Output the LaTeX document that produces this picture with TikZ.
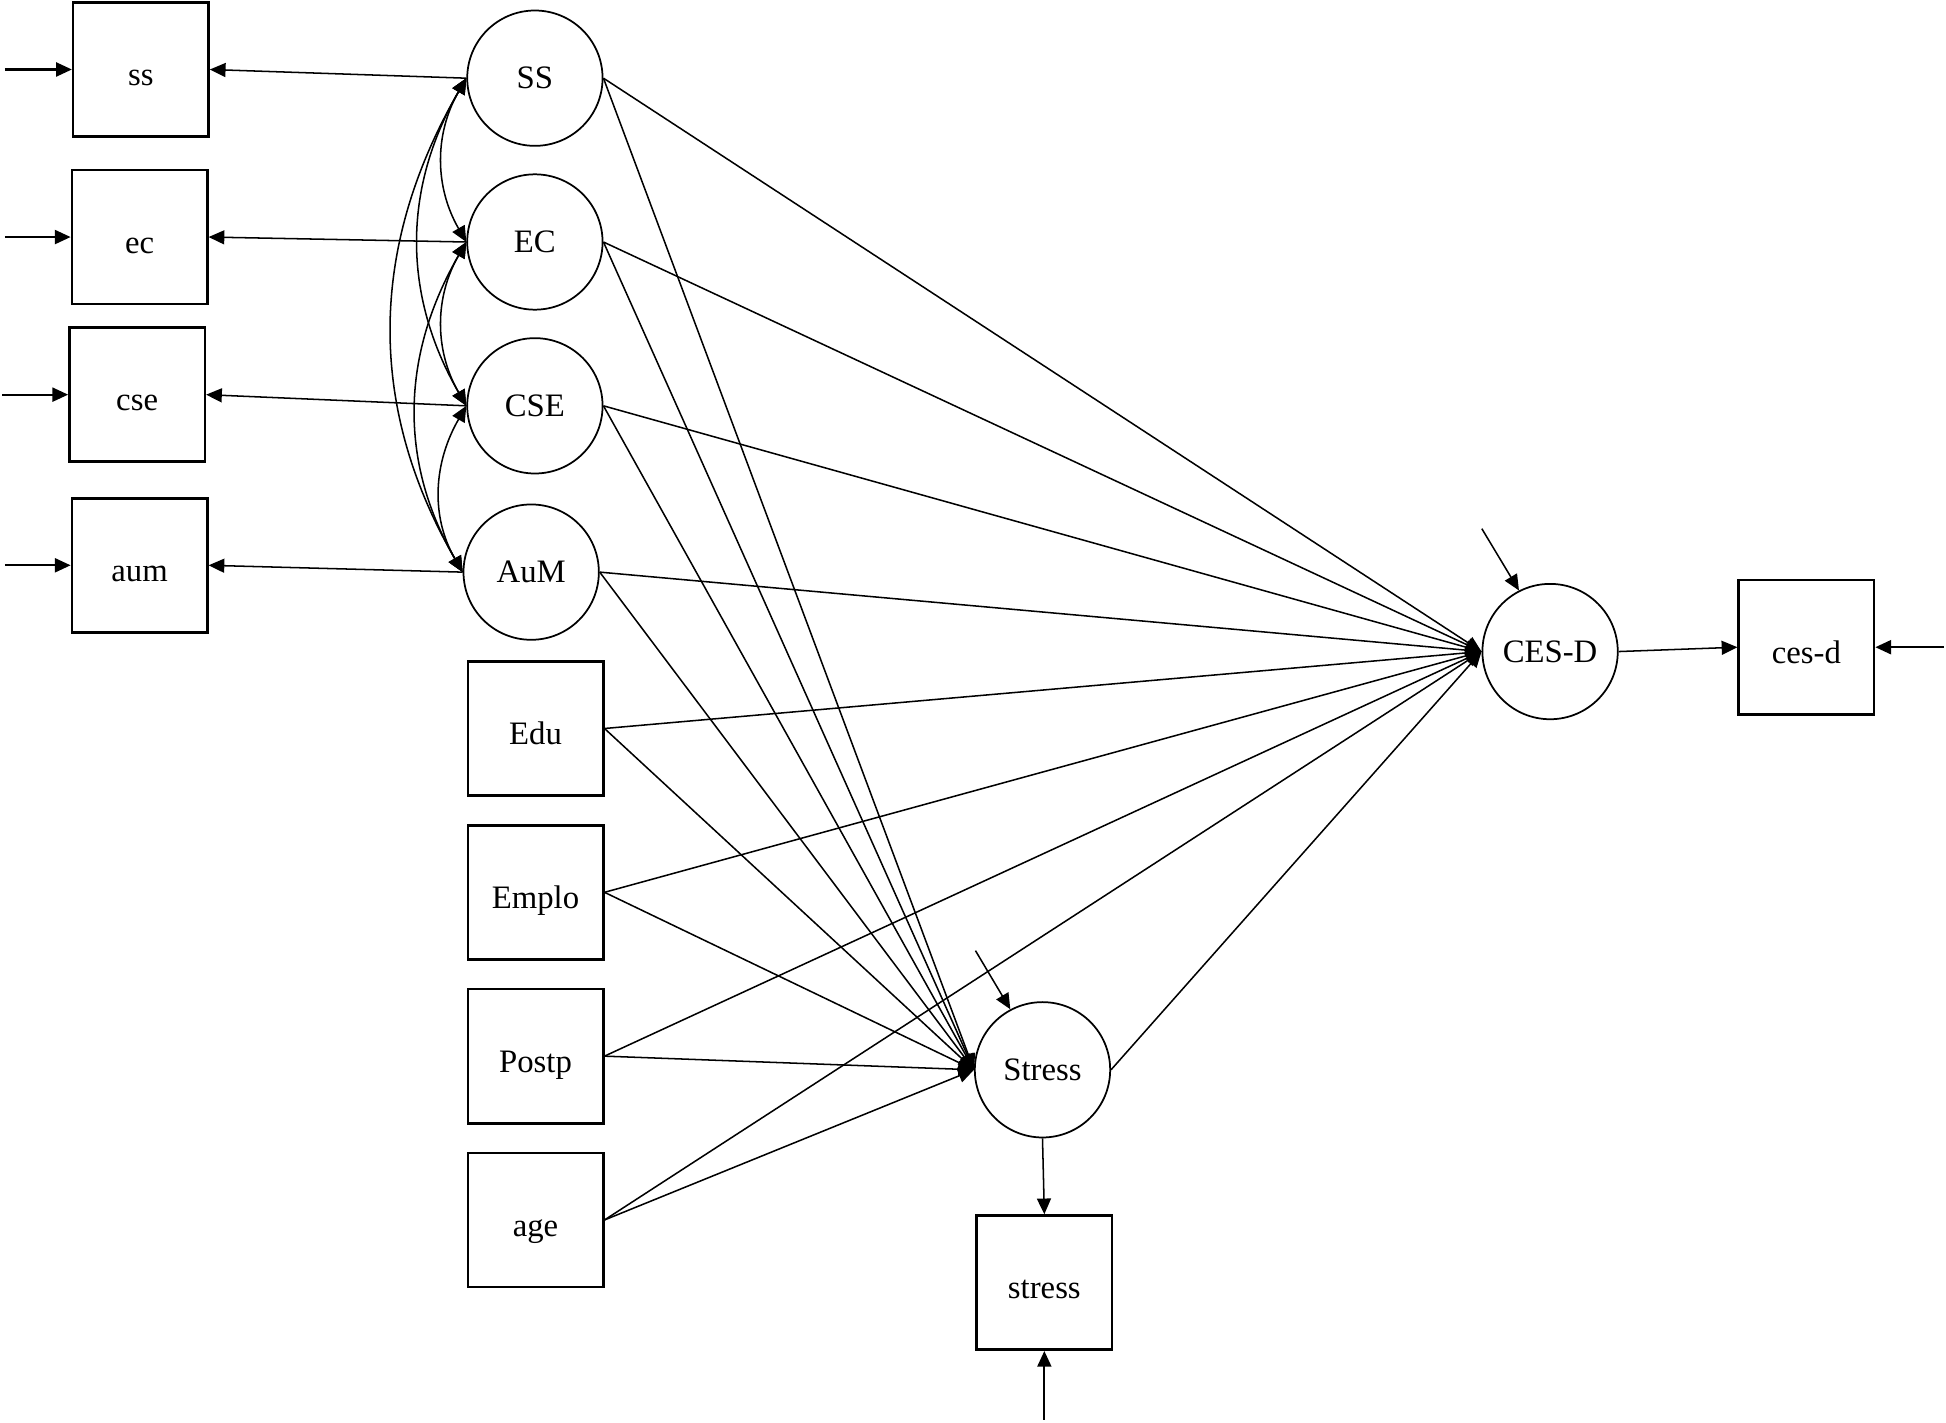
\documentclass[tikz,border=0pt]{standalone}
\usepackage{fontspec}
\setmainfont{Liberation Serif}
\usetikzlibrary{arrows.meta}

\begin{document}
\begin{tikzpicture}%
        [x=0.01cm, y=-0.01cm,
        font=\fontsize{7.5}{9}\selectfont,
        latent/.style={circle, draw=black, line width=0.4pt, minimum size=1.09cm, inner sep=0pt},
        observed/.style={rectangle, draw=black, line width=0.6pt, minimum width=1.09cm, minimum height=1.08cm, inner sep=0pt, text height=0.26cm, text depth=0pt},
        regPath/.style={-{Triangle[length=3.6pt,width=3.2pt]}, line width=0.35pt},
        covPath/.style={{Triangle[length=3.6pt,width=3.2pt]}-{Triangle[length=3.6pt,width=3.2pt]}, line width=0.35pt},
        errPath/.style={-{Triangle[length=3.6pt,width=3.2pt]}, line width=0.5pt}]
%
\useasboundingbox (0,0) rectangle (1568,1146);
%
%% Indicators on the left
%%
\node[observed] (ss) at (113.5,56) {ss};
\node[observed] (ec) at (112.5,191) {ec};
\node[observed] (cse) at (110.5,318) {cse};
\node[observed] (aum) at (112.5,455.5) {aum};
%%
%% Latent factors
%%
\node[latent] (SS) at (431,63) {SS};
\node[latent] (EC) at (431,195) {EC};
\node[latent] (CSE) at (431,327) {CSE};
\node[latent] (AuM) at (428,461) {AuM};
%%
%% Covariates
%%
\node[observed] (Edu) at (431.5,587) {Edu};
\node[observed] (Emplo) at (431.5,719) {Emplo};
\node[observed] (Postp) at (431.5,851) {Postp};
\node[observed] (age) at (431.5,983) {age};
%%
%% Outcomes
%%
\node[latent] (CESD) at (1249,525) {CES-D};
\node[observed] (cesd) at (1455.5,521.5) {ces-d};
\node[latent] (Stress) at (840,862) {Stress};
\node[observed] (stress) at (841.5,1033.5) {stress};
%%
%% Free ends of the error arrows
%%
\coordinate (ssErr) at (4,56);
\coordinate (ecErr) at (4,191);
\coordinate (cseErr) at (2,318);
\coordinate (aumErr) at (4,455.5);
\coordinate (cesdErr) at (1566,521.5);
\coordinate (stressErr) at (841.5,1144);
\coordinate (CESDErr) at (1194,426);
\coordinate (StressErr) at (786,766);
%%
%%
%% Drawing the error arrows
%%
\draw[errPath] (ssErr) -- (ss.west);
\draw[errPath] (ecErr) -- (ec.west);
\draw[errPath] (cseErr) -- (cse.west);
\draw[errPath] (aumErr) -- (aum.west);
\draw[errPath] (cesdErr) -- (cesd.east);
\draw[errPath] (stressErr) -- (stress.south);
\draw[regPath] (CESDErr) -- (CESD.117);
\draw[regPath] (StressErr) -- (Stress.118);
%%
%%
%% Drawing the loadings
%%
\draw[regPath] (SS.west) -- (ss.east);
\draw[regPath] (EC.west) -- (ec.east);
\draw[regPath] (CSE.west) -- (cse.east);
\draw[regPath] (AuM.west) -- (aum.east);
\draw[regPath] (CESD.east) -- (cesd.west);
\draw[regPath] (Stress.south) -- (stress.north);
%%
%%
%% Drawing the covariances
%%
\draw[covPath] (SS.west) to[out=-120, in=120] (EC.west);
\draw[covPath] (SS.west) to[out=-120, in=120] (CSE.west);
\draw[covPath] (SS.west) to[out=-120, in=120] (AuM.west);
\draw[covPath] (EC.west) to[out=-120, in=120] (CSE.west);
\draw[covPath] (EC.west) to[out=-120, in=120] (AuM.west);
\draw[covPath] (CSE.west) to[out=-120, in=120] (AuM.west);
%%
%%
%% Drawing the paths to CES-D
%%
\draw[regPath] (SS.east) -- (CESD.west);
\draw[regPath] (EC.east) -- (CESD.west);
\draw[regPath] (CSE.east) -- (CESD.west);
\draw[regPath] (AuM.east) -- (CESD.west);
\draw[regPath] (Edu.east) -- (CESD.west);
\draw[regPath] (Emplo.east) -- (CESD.west);
\draw[regPath] (Postp.east) -- (CESD.west);
\draw[regPath] (age.east) -- (CESD.west);
\draw[regPath] (Stress.east) -- (CESD.west);
%%
%%
%% Drawing the paths to Stress
%%
\draw[regPath] (SS.east) -- (Stress.west);
\draw[regPath] (EC.east) -- (Stress.west);
\draw[regPath] (CSE.east) -- (Stress.west);
\draw[regPath] (AuM.east) -- (Stress.west);
\draw[regPath] (Edu.east) -- (Stress.west);
\draw[regPath] (Emplo.east) -- (Stress.west);
\draw[regPath] (Postp.east) -- (Stress.west);
\draw[regPath] (age.east) -- (Stress.west);
%%
\end{tikzpicture}
\end{document}
